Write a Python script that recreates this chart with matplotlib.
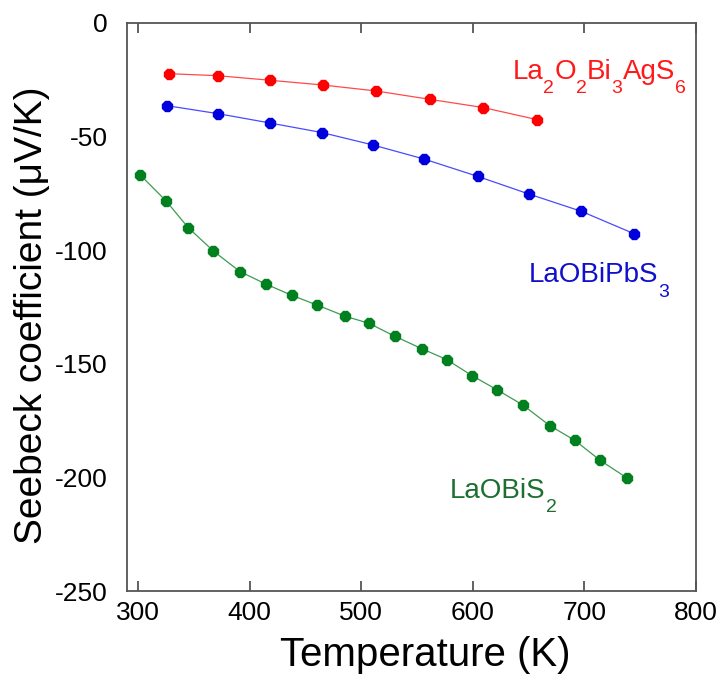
import matplotlib
matplotlib.use("Agg")
import matplotlib.pyplot as plt
from matplotlib.transforms import offset_copy

plt.rcParams['font.family'] = ['Liberation Sans', 'DejaVu Sans']
plt.rcParams['axes.unicode_minus'] = False

# La2O2Bi3AgS6 (red)
t_ag = [327.5, 371.5, 418.1, 465.7, 513.0, 561.5, 609.1, 657.3]
s_ag = [-22.3, -23.2, -25.2, -27.3, -29.9, -33.6, -37.2, -42.5]

# LaOBiPbS3 (blue)
t_pb = [326.0, 371.5, 418.1, 464.5, 510.6, 556.4, 604.3, 650.4, 697.3, 744.3]
s_pb = [-36.4, -39.9, -44.0, -48.2, -53.7, -59.9, -67.5, -75.3, -82.9, -92.7]

# LaOBiS2 (green)
t_s2 = [302.1, 324.8, 344.9, 367.3, 391.2, 414.9, 437.9, 460.7, 485.2, 507.0,
        530.1, 554.0, 576.8, 599.2, 621.9, 644.7, 668.9, 691.4, 714.1, 738.3]
s_s2 = [-67.0, -78.2, -90.1, -100.3, -109.4, -115.0, -119.9, -124.2, -129.0, -132.2,
        -137.9, -143.3, -148.2, -155.2, -161.5, -168.1, -177.2, -183.7, -192.5, -200.3]

x_ticks = [300, 400, 500, 600, 700, 800]
y_ticks = [0, -50, -100, -150, -200, -250]

# label pieces: (text, is_subscript)
lab_ag = [('La', 0), ('2', 1), ('O', 0), ('2', 1), ('Bi', 0), ('3', 1), ('AgS', 0), ('6', 1)]
lab_pb = [('LaOBiPbS', 0), ('3', 1)]
lab_s2 = [('LaOBiS', 0), ('2', 1)]

fig = plt.figure(figsize=(7.2, 6.8), dpi=100)
ax = fig.add_axes([127/720, 1 - 591/680, 569/720, 568/680])

series = [
    (t_ag, s_ag, '#ff0000', '#ff4a4a'),
    (t_pb, s_pb, '#0000dd', '#4a4aff'),
    (t_s2, s_s2, '#00801e', '#3c9c50'),
]
for t, s, mc, lc in series:
    ax.plot(t, s, '-', color=lc, lw=0.9, zorder=2)
    ax.plot(t, s, linestyle='none', marker='8', ms=8, mfc=mc, mec=mc, zorder=3)

ax.set_xlim(290, 800)
ax.set_ylim(-250, 0)
ax.set_xticks(x_ticks)
ax.set_yticks(y_ticks)

for sp in ax.spines.values():
    sp.set_color('#555555')
    sp.set_linewidth(1.3)

ax.tick_params(axis='x', direction='in', length=7, width=1.3, color='#555555',
               top=True, labelsize=19, pad=7)
ax.tick_params(axis='y', length=0, labelsize=19, pad=14)

ax.set_xlabel('Temperature (K)', fontsize=29)
ax.xaxis.label.set_va('center')
ax.xaxis.set_label_coords(0.524, -0.113)
ax.set_ylabel('Seebeck coefficient (\u03bcV/K)', fontsize=28)
ax.yaxis.label.set_va('center')
ax.yaxis.set_label_coords(-0.167, 0.486)

renderer = fig.canvas.get_renderer()


def chem_label(x, y, parts, color, size=20, sub_size=14, sub_drop=10.5):
    dx = 0.0
    for txt, sub in parts:
        tr = offset_copy(ax.transData, fig=fig, x=dx, y=-sub_drop if sub else 0,
                         units='points')
        t = ax.text(x, y, txt, color=color, fontsize=sub_size if sub else size,
                    ha='left', va='baseline', transform=tr)
        w = t.get_window_extent(renderer).width * 72.0 / fig.dpi
        dx += w


chem_label(635.7, -24.5, lab_ag, '#ff1a1a')
chem_label(650.4, -114.0, lab_pb, '#1010cc')
chem_label(579.4, -209.0, lab_s2, '#1e6e32')

fig.savefig('out.png', dpi=100)
